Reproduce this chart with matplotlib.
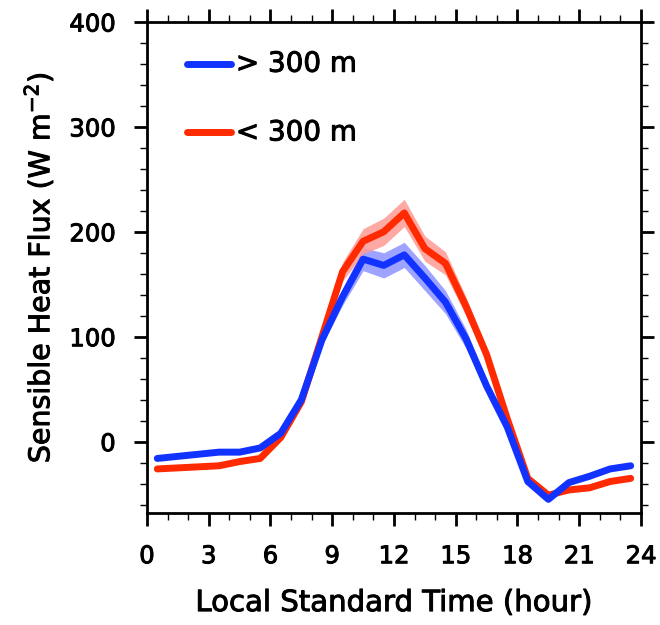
import numpy as np
import matplotlib
matplotlib.use('Agg')
import matplotlib.pyplot as plt
import matplotlib.patheffects as pe
from matplotlib.ticker import MultipleLocator

plt.rcParams['font.family'] = ['DejaVu Sans']

# half-hourly composite of sensible heat flux
hours = np.arange(0.5, 24, 1.0)
high_sfc = [-16, -14, -12, -10, -10, -6, 8, 40, 97, 138, 174, 168,
            178, 156, 133, 98, 53, 14, -38, -55, -39, -33, -26, -23]
low_sfc = [-26, -25, -24, -23, -19, -16, 4, 38, 100, 162, 191, 200,
           218, 184, 170, 129, 83, 22, -35, -51, -46, -44, -38, -35]
high_err = [1, 1, 1, 1, 1, 1, 2, 3, 5, 8, 11, 12,
            12, 12, 11, 9, 6, 4, 3, 2, 2, 2, 2, 2]
low_err = [1, 1, 1, 1, 1, 1, 2, 3, 5, 9, 12, 13,
           13, 12, 11, 9, 6, 4, 3, 2, 2, 2, 2, 2]
labels = ['> 300 m', '< 300 m']

fig = plt.figure(figsize=(6.6, 6.25), dpi=100)
ax = fig.add_axes([0.2227, 0.1792, 0.7485, 0.7856])

blue = '#1233ff'
red = '#ff2a00'
hi = np.array(high_sfc)
lo = np.array(low_sfc)
ax.fill_between(hours, hi - high_err, hi + high_err, color='#8c93ff', alpha=0.85, lw=0)
ax.fill_between(hours, lo - low_err, lo + low_err, color='#ff9a96', alpha=0.85, lw=0)
ax.plot(hours, lo, color=red, lw=5, solid_joinstyle='round', solid_capstyle='round', label=labels[1])
ax.plot(hours, hi, color=blue, lw=5, solid_joinstyle='round', solid_capstyle='round', label=labels[0])

ax.set_xlim(0, 24)
ax.set_ylim(-68, 400)
ax.xaxis.set_major_locator(MultipleLocator(3))
ax.xaxis.set_minor_locator(MultipleLocator(1))
ax.yaxis.set_major_locator(MultipleLocator(100))
ax.yaxis.set_minor_locator(MultipleLocator(20))
ax.tick_params(which='both', direction='out', top=True, right=True, labelsize=17.5)
ax.tick_params(which='major', length=9.5, width=2)
ax.tick_params(which='minor', length=5, width=1)
ax.tick_params(axis='x', pad=13)
ax.tick_params(axis='y', pad=13)
for sp in ax.spines.values():
    sp.set_linewidth(2)

# slightly heavier strokes on all text
heavy = [pe.withStroke(linewidth=0.7, foreground='black')]

xl = ax.set_xlabel('Local Standard Time (hour)', fontsize=21, labelpad=15)
yl = ax.set_ylabel('Sensible Heat Flux (W m$^{\\mathregular{-2}}$)', fontsize=20.5, labelpad=10)
for t in [xl, yl] + ax.get_xticklabels() + ax.get_yticklabels():
    t.set_path_effects(heavy)

# legend drawn by hand, line then label
for i, (lab, c) in enumerate(zip(labels, [blue, red])):
    y = 0.915 - i * 0.14
    ax.plot([0.08, 0.17], [y, y], color=c, lw=5, solid_capstyle='round', transform=ax.transAxes)
    ax.text(0.18, y, lab, fontsize=20, va='center', ha='left', transform=ax.transAxes,
            path_effects=heavy)

fig.savefig('out.png', dpi=100)
